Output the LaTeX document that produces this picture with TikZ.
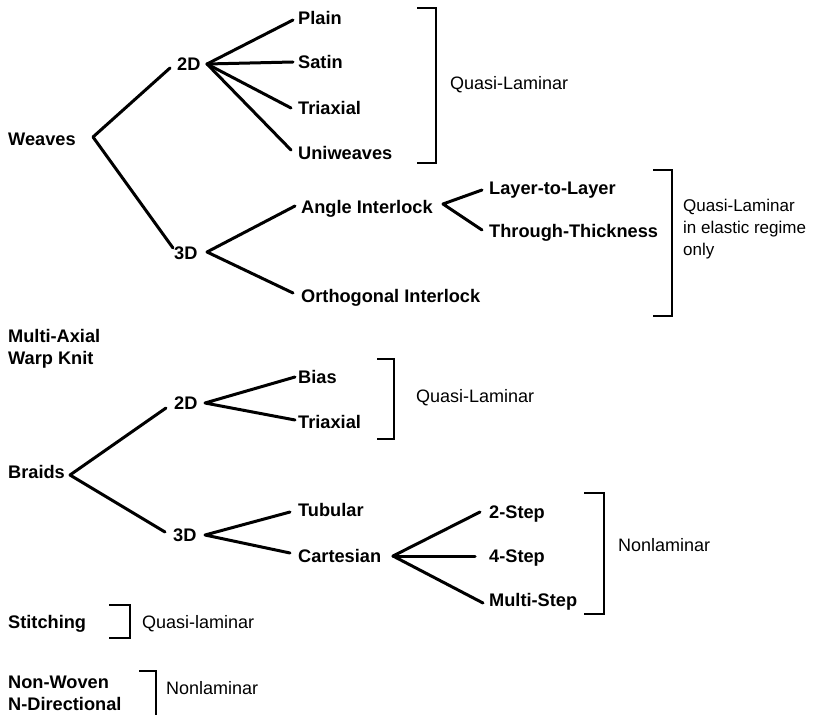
\documentclass[tikz,border=0pt]{standalone}
\usepackage{fontspec}
\setmainfont{Liberation Sans}
\begin{document}
\begin{tikzpicture}[x=1pt,y=-1pt,
  lab/.style={inner sep=0pt,font=\bfseries\fontsize{18.2}{22}\selectfont},
  bw/.style={lab,text height=13pt,text depth=0pt,anchor=west},
  reg/.style={inner sep=0pt,font=\fontsize{18}{22}\selectfont},
  rw/.style={reg,text height=12.9pt,text depth=0pt,anchor=west},
  conn/.style={line width=3pt,line cap=round,line join=round},
  brk/.style={line width=1.8pt}]
\useasboundingbox (0,0) rectangle (818,714);
% ---- Weaves
\node[bw] (weaves) at (8,139) {Weaves};
\node[bw] (w2d) at (177,64) {2D};
\node[bw] (w3d) at (174,253) {3D};
\node[bw] (plain) at (298,18) {Plain};
\node[bw] (satin) at (298,62) {Satin};
\node[bw] (wtri) at (298,108) {Triaxial};
\node[bw] (uni) at (298,153) {Uniweaves};
\node[bw] (angle) at (301,207) {Angle Interlock};
\node[bw] (ortho) at (301,296) {Orthogonal Interlock};
\node[bw] (layer) at (489,188) {Layer-to-Layer};
\node[bw] (through) at (489,231) {Through-Thickness};
\coordinate (vw) at (93,137);
\coordinate (v2d) at (207,64);
\coordinate (v3d) at (207,252);
\coordinate (vang) at (443,204);
\draw[conn] ([shift={(-7,4)}]w2d.west) -- (vw) -- ([shift={(-1,-5)}]w3d.west);
\draw[conn] (v2d) -- ([shift={(-5,2)}]plain.west);
\draw[conn] (v2d) -- ([shift={(-5,0)}]satin.west);
\draw[conn] (v2d) -- ([shift={(-7,0)}]wtri.west);
\draw[conn] (v2d) -- ([shift={(-7,-3)}]uni.west);
\draw[conn] ([shift={(-6,-1)}]angle.west) -- (v3d) -- ([shift={(-8,-3)}]ortho.west);
\draw[conn] ([shift={(-7,2)}]layer.west) -- (vang) -- ([shift={(-7,-1)}]through.west);
\draw[brk] (417,8) -- (436,8) -- (436,163) -- (417,163);
\node[rw] (ql1) at (450,83) {Quasi-Laminar};
\draw[brk] (653,170) -- (672,170) -- (672,316) -- (653,316);
\node[reg,font=\fontsize{17}{22}\selectfont,align=left,anchor=north west] (ql2) at (683,199) {Quasi-Laminar\\in elastic regime\\only};
% ---- Multi-axial
\node[lab,align=left,anchor=north west] (mawk) at (8,329) {Multi-Axial\\Warp Knit};
% ---- Braids
\node[bw] (braids) at (8,472) {Braids};
\node[bw] (b2d) at (174,403) {2D};
\node[bw] (b3d) at (173,535) {3D};
\node[bw] (bias) at (298,377) {Bias};
\node[bw] (btri) at (298,422) {Triaxial};
\node[bw] (tub) at (298,510) {Tubular};
\node[bw] (cart) at (298,556) {Cartesian};
\node[bw] (s2) at (489,512) {2-Step};
\node[bw] (s4) at (489,556) {4-Step};
\node[bw] (sm) at (489,600) {Multi-Step};
\coordinate (vb) at (70,475);
\coordinate (vb2) at (205,403);
\coordinate (vb3) at (205,535);
\coordinate (vc) at (393,556);
\draw[conn] ([shift={(-8,5)}]b2d.west) -- (vb) -- ([shift={(-8,-3)}]b3d.west);
\draw[conn] ([shift={(-3,0)}]bias.west) -- (vb2) -- ([shift={(-3,-2)}]btri.west);
\draw[conn] ([shift={(-8,2)}]tub.west) -- (vb3) -- ([shift={(-8,-3)}]cart.west);
\draw[conn] (vc) -- ([shift={(-9,0)}]s2.west);
\draw[conn] (vc) -- ([shift={(-14,0)}]s4.west);
\draw[conn] (vc) -- ([shift={(-6,3)}]sm.west);
\draw[brk] (377,359) -- (394,359) -- (394,439) -- (377,439);
\node[rw] (ql3) at (416,396) {Quasi-Laminar};
\draw[brk] (584,493) -- (604,493) -- (604,614) -- (584,614);
\node[rw] (nl1) at (618,545) {Nonlaminar};
% ---- Stitching
\node[bw] (stitch) at (8,622) {Stitching};
\draw[brk] (109,605) -- (130,605) -- (130,638) -- (109,638);
\node[rw] (ql4) at (142,622) {Quasi-laminar};
% ---- Non-woven
\node[lab,align=left,anchor=north west] (nonwoven) at (8,676) {Non-Woven\\N-Directional};
\draw[brk] (139,671) -- (156,671) -- (156,716);
\node[rw] (nl2) at (166,688) {Nonlaminar};
\end{tikzpicture}
\end{document}
